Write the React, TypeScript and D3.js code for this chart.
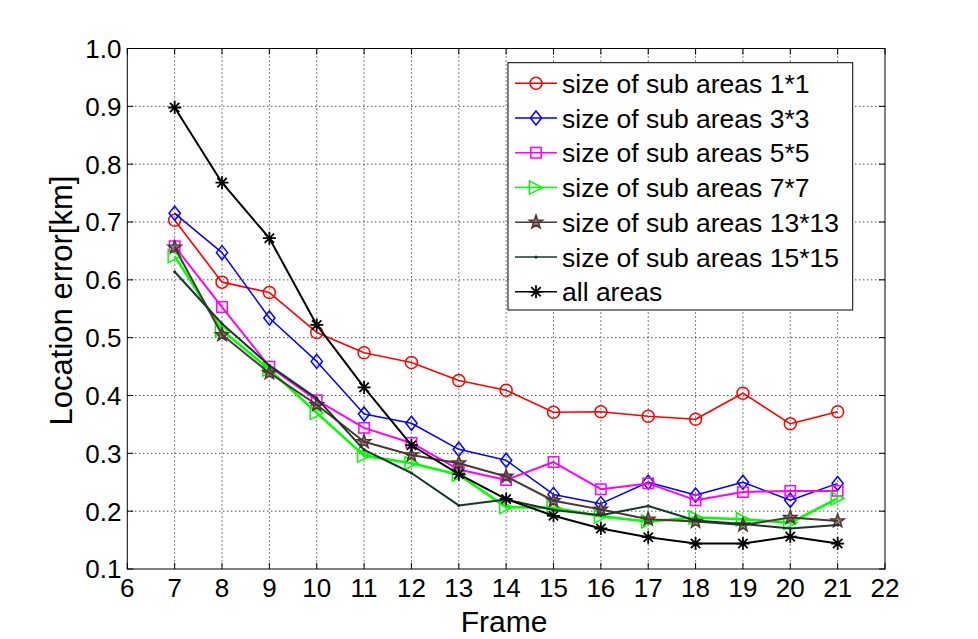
import React from "react";
import * as d3 from "d3";

const frames = [7, 8, 9, 10, 11, 12, 13, 14, 15, 16, 17, 18, 19, 20, 21];
const sub1 = [0.703, 0.596, 0.578, 0.509, 0.474, 0.457, 0.426, 0.409, 0.371, 0.372, 0.364, 0.359, 0.404, 0.351, 0.372];
const sub3 = [0.715, 0.647, 0.534, 0.459, 0.368, 0.352, 0.307, 0.288, 0.229, 0.213, 0.25, 0.228, 0.25, 0.219, 0.248];
const sub5 = [0.658, 0.553, 0.45, 0.392, 0.344, 0.318, 0.272, 0.254, 0.285, 0.238, 0.248, 0.219, 0.233, 0.235, 0.235];
const sub7 = [0.641, 0.513, 0.445, 0.37, 0.296, 0.283, 0.263, 0.207, 0.206, 0.191, 0.182, 0.189, 0.186, 0.18, 0.222];
const sub13 = [0.656, 0.505, 0.439, 0.384, 0.32, 0.297, 0.283, 0.26, 0.218, 0.203, 0.186, 0.182, 0.176, 0.189, 0.183];
const sub15 = [0.614, 0.524, 0.452, 0.395, 0.306, 0.266, 0.21, 0.22, 0.202, 0.193, 0.209, 0.184, 0.178, 0.17, 0.176];
const allAreas = [0.898, 0.768, 0.672, 0.522, 0.414, 0.314, 0.264, 0.221, 0.192, 0.17, 0.155, 0.144, 0.144, 0.156, 0.144];

const seriesNames = [
  "size of sub areas 1*1",
  "size of sub areas 3*3",
  "size of sub areas 5*5",
  "size of sub areas 7*7",
  "size of sub areas 13*13",
  "size of sub areas 15*15",
  "all areas",
];
const seriesValues = [sub1, sub3, sub5, sub7, sub13, sub15, allAreas];
const seriesColors = ["#ff0000", "#0000ff", "#ff00ff", "#00ff00", "#503535", "#17382a", "#000000"];
const seriesWidths = [1.6, 1.5, 2, 2.6, 2, 2, 2];
const seriesMarkers = ["circle", "diamond", "square", "triangle", "star", "dot", "asterisk"];

const xTicks = [6, 7, 8, 9, 10, 11, 12, 13, 14, 15, 16, 17, 18, 19, 20, 21, 22];
const yTicks = [0.1, 0.2, 0.3, 0.4, 0.5, 0.6, 0.7, 0.8, 0.9, 1.0];

const W = 978;
const H = 639;
const L = 127.3, R = 885, T = 48.5, B = 569;

function markerPath(type: string): string {
  if (type === "circle") {
    const r = 6;
    return `M${-r},0A${r},${r} 0 1,0 ${r},0A${r},${r} 0 1,0 ${-r},0Z`;
  }
  if (type === "diamond") {
    const a = 7;
    return `M0,${-a}L${a * 0.8},0L0,${a}L${-a * 0.8},0Z`;
  }
  if (type === "square") {
    const a = 5.2;
    return `M${-a},${-a}L${a},${-a}L${a},${a}L${-a},${a}Z`;
  }
  if (type === "triangle") {
    const a = 6.5;
    return `M${a},0L${-a},${-a}L${-a},${a}Z`;
  }
  if (type === "star") {
    const ro = 7, ri = 2.9;
    const pts: string[] = [];
    for (let i = 0; i < 10; i++) {
      const r = i % 2 === 0 ? ro : ri;
      const ang = -Math.PI / 2 + (i * Math.PI) / 5;
      pts.push(`${(r * Math.cos(ang)).toFixed(2)},${(r * Math.sin(ang)).toFixed(2)}`);
    }
    return "M" + pts.join("L") + "Z";
  }
  if (type === "asterisk") {
    const a = 6.5, d = a * 0.72;
    return `M${-a},0L${a},0M0,${-a}L0,${a}M${-d},${-d}L${d},${d}M${-d},${d}L${d},${-d}`;
  }
  return "";
}

function Marker({ type, x, y, color }: { type: string; x: number; y: number; color: string }) {
  if (type === "dot") {
    return <circle cx={x} cy={y} r={1.6} fill={color} />;
  }
  return (
    <path
      d={markerPath(type)}
      transform={`translate(${x},${y})`}
      fill={type === "star" ? color : "none"}
      fillOpacity={type === "star" ? 0.6 : 0}
      stroke={color}
      strokeWidth={type === "asterisk" ? 1.8 : 1.5}
    />
  );
}

export default function App() {
  const x = d3.scaleLinear().domain([6, 22]).range([L, R]);
  const y = d3.scaleLinear().domain([0.1, 1.0]).range([B, T]);
  const line = d3
    .line<number>()
    .x((_, i) => x(frames[i]))
    .y((v) => y(v));

  const font = "'Liberation Sans', Arial, sans-serif";
  const legX = 508, legY = 62.7, legW = 344.7, legH = 247.3;
  const legRow0 = 83.3, legStep = 34.75;

  return (
    <svg
      width={W}
      height={H}
      style={{ position: "absolute", left: 0, top: 0, background: "#fff" }}
      fontFamily={font}
    >
      <rect x={0} y={0} width={W} height={H} fill="#fff" />
      {/* grid */}
      {xTicks.slice(1, -1).map((t) => (
        <line key={"gx" + t} x1={x(t)} x2={x(t)} y1={T} y2={B} stroke="#000" strokeWidth={1} strokeDasharray="1,3" />
      ))}
      {yTicks.slice(1, -1).map((t) => (
        <line key={"gy" + t} x1={L} x2={R} y1={y(t)} y2={y(t)} stroke="#000" strokeWidth={1} strokeDasharray="1,3" />
      ))}
      {/* ticks */}
      {xTicks.map((t) => (
        <g key={"tx" + t}>
          <line x1={x(t)} x2={x(t)} y1={B} y2={B - 6} stroke="#000" />
          <line x1={x(t)} x2={x(t)} y1={T} y2={T + 6} stroke="#000" />
          <text x={x(t)} y={597} fontSize={26} textAnchor="middle" fill="#000">
            {t}
          </text>
        </g>
      ))}
      {yTicks.map((t) => (
        <g key={"ty" + t}>
          <line x1={L} x2={L + 6} y1={y(t)} y2={y(t)} stroke="#000" />
          <line x1={R} x2={R - 6} y1={y(t)} y2={y(t)} stroke="#000" />
          <text x={121.5} y={y(t)} dy="0.36em" fontSize={26} textAnchor="end" fill="#000">
            {t.toFixed(1)}
          </text>
        </g>
      ))}
      {/* series */}
      {seriesValues.map((vals, si) => (
        <g key={"s" + si}>
          <path d={line(vals) || ""} fill="none" stroke={seriesColors[si]} strokeWidth={seriesWidths[si]} strokeLinejoin="round" />
          {vals.map((v, i) => (
            <Marker key={i} type={seriesMarkers[si]} x={x(frames[i])} y={y(v)} color={seriesColors[si]} />
          ))}
        </g>
      ))}
      {/* axes box */}
      <rect x={L} y={T} width={R - L} height={B - T} fill="none" stroke="#000" strokeWidth={1} />
      {/* labels */}
      <text x={504} y={632} fontSize={30} textAnchor="middle" fill="#000">
        Frame
      </text>
      <text
        transform={`translate(72,300.5) rotate(-90)`}
        fontSize={31}
        textAnchor="middle"
        fill="#000"
      >
        Location error[km]
      </text>
      {/* legend */}
      <rect x={legX} y={legY} width={legW} height={legH} fill="#fff" stroke="#000" strokeWidth={1} />
      {seriesNames.map((name, i) => {
        const cy = legRow0 + i * legStep;
        return (
          <g key={"lg" + i}>
            <line x1={515} x2={557} y1={cy} y2={cy} stroke={seriesColors[i]} strokeWidth={1.5} />
            <Marker type={seriesMarkers[i]} x={536} y={cy} color={seriesColors[i]} />
            <text x={562} y={cy} dy="0.36em" fontSize={26.5} fill="#000">
              {name}
            </text>
          </g>
        );
      })}
    </svg>
  );
}
